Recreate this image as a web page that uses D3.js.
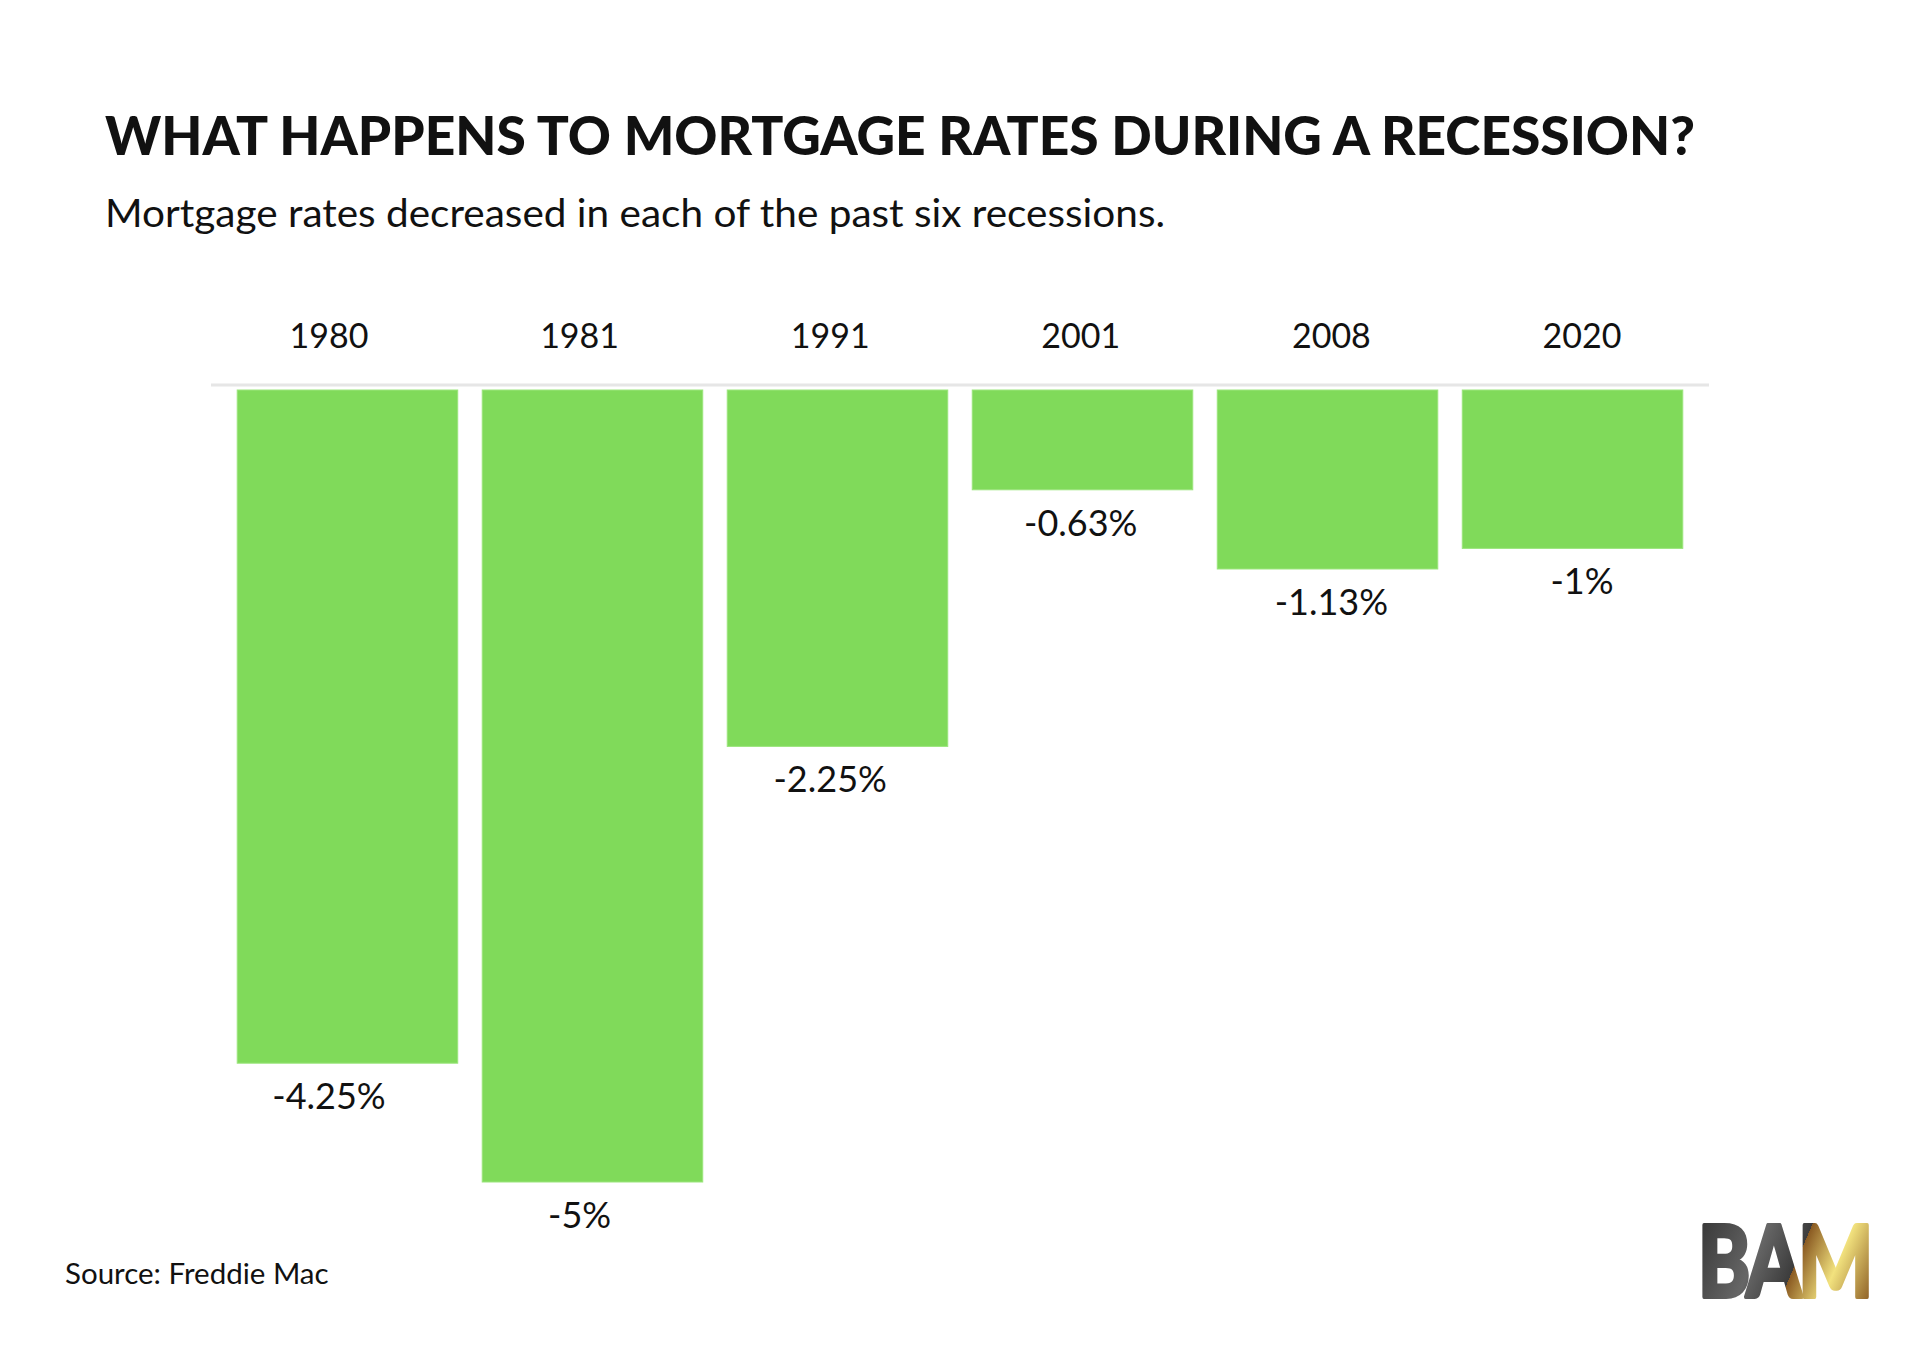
<!DOCTYPE html>
<style>
    body { margin: 0; background: #fff; }
    text { font-family: Lato, "Open Sans", sans-serif; fill: #111; }
    .title { font-weight: 900; }
    .bars rect { fill: #80da5a; stroke: #9be57c; stroke-width: 1px; }
</style>
<svg width="1920" height="1350"></svg>
<script src="https://cdn.jsdelivr.net/npm/d3@7"></script>
<script>

    var years = ["1980", "1981", "1991", "2001", "2008", "2020"],
        changes = [-4.25, -5, -2.25, -0.63, -1.13, -1],
        labels = ["-4.25%", "-5%", "-2.25%", "-0.63%", "-1.13%", "-1%"];

    var svg = d3.select("svg"),
        width = +svg.attr("width"),
        height = +svg.attr("height");

    var x = d3.scaleBand()
        .domain(years)
        .range([211, 1709])
        .paddingInner(0.1)
        .paddingOuter(0.107);

    // the text columns sit on their own grid, a bit left of the bars
    var xText = d3.scalePoint()
        .domain(years)
        .range([329, 1582]);

    var y = d3.scaleLinear()
        .domain([0, -5])
        .range([390, 1182]);

    // title block
    svg.append("text").attr("class", "title")
        .attr("x", 105).attr("y", 155)
        .attr("font-size", 54)
        .attr("textLength", 1590).attr("lengthAdjust", "spacingAndGlyphs")
        .text("WHAT HAPPENS TO MORTGAGE RATES DURING A RECESSION?");

    svg.append("text")
        .attr("x", 105).attr("y", 227)
        .attr("font-size", 38)
        .attr("textLength", 1060).attr("lengthAdjust", "spacingAndGlyphs")
        .text("Mortgage rates decreased in each of the past six recessions.");

    // zero line on top
    svg.append("line")
        .attr("x1", x.range()[0]).attr("x2", x.range()[1])
        .attr("y1", 385).attr("y2", 385)
        .attr("stroke", "#e6e6e6").attr("stroke-width", 3);

    var g = svg.append("g").attr("class", "bars");

    g.selectAll("rect")
        .data(years)
        .enter().append("rect")
        .attr("x", function (d) { return x(d); })
        .attr("y", y(0))
        .attr("width", x.bandwidth())
        .attr("height", function (d, i) { return y(changes[i]) - y(0); });

    svg.append("g").selectAll("text")
        .data(years)
        .enter().append("text")
        .attr("x", function (d) { return xText(d); })
        .attr("y", 348)
        .attr("text-anchor", "middle")
        .attr("font-size", 34)
        .text(function (d) { return d; });

    svg.append("g").selectAll("text")
        .data(years)
        .enter().append("text")
        .attr("x", function (d) { return xText(d); })
        .attr("y", function (d, i) { return y(changes[i]) + 46; })
        .attr("text-anchor", "middle")
        .attr("font-size", 36)
        .text(function (d, i) { return labels[i]; });

    svg.append("text")
        .attr("x", 65).attr("y", 1284)
        .attr("font-size", 29.5)
        .text("Source: Freddie Mac");

    // BAM logo: one text, grey for "BA" and gold for "M" via hard gradient stops
    var defs = svg.append("defs");
    var logoFill = defs.append("linearGradient").attr("id", "logoFill")
        .attr("gradientUnits", "userSpaceOnUse")
        .attr("x1", 1696).attr("y1", 1222).attr("x2", 1873).attr("y2", 1298);
    [["0%", "#353535"], ["35%", "#666666"], ["56%", "#3c3c3c"],
     ["56%", "#8a5a22"], ["76%", "#f2e27e"], ["100%", "#8a5a22"]].forEach(function (s) {
        logoFill.append("stop").attr("offset", s[0]).attr("stop-color", s[1]);
    });

    svg.append("text")
        .attr("x", 1698).attr("y", 1297)
        .attr("font-size", 100)
        .attr("textLength", 172).attr("lengthAdjust", "spacingAndGlyphs")
        .style("font-family", "Lato, sans-serif").style("font-weight", 900)
        .style("letter-spacing", "-4px")
        .style("fill", "url(#logoFill)").style("stroke", "url(#logoFill)").style("stroke-width", 4)
        .style("stroke-linejoin", "round")
        .text("BAM");

</script>
